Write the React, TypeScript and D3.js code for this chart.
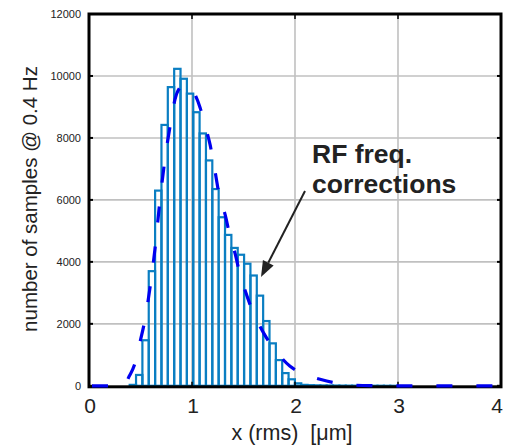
import React from "react";
import * as d3 from "d3";

// ---- data ----
const binStart = 0.395; // µm, left edge of first histogram bin
const binWidth = 0.0617; // µm
const binCounts = [
  30, 350, 1470, 3700, 6300, 8420, 9640, 10230, 9910, 9430, 8830, 8145, 7274,
  6350, 5440, 4870, 4450, 4230, 3940, 3560, 2910, 2090, 1370, 830, 410, 210, 80,
  30, 20, 15, 12, 10, 8, 6, 5, 4, 3, 3, 2, 2, 1, 1,
];
const fitX = [
  0, 0.34, 0.39, 0.44, 0.49, 0.54, 0.59, 0.64, 0.69, 0.74, 0.79, 0.835, 0.884,
  0.932, 0.981, 1.029, 1.078, 1.127, 1.175, 1.224, 1.272, 1.321, 1.369, 1.418,
  1.466, 1.515, 1.563, 1.612, 1.66, 1.709, 1.758, 1.806, 1.855, 1.952, 2.049,
  2.146, 2.243, 2.389, 2.534, 2.728, 3.02, 4.0,
];
const fitY = [
  0, 0, 306, 661, 1339, 2081, 3113, 4403, 6016, 7371, 8435, 9242, 9629, 9726,
  9661, 9403, 8984, 8403, 7790, 6919, 6016, 5532, 4823, 4274, 3597, 3081, 2629,
  2242, 1919, 1629, 1371, 1145, 952, 629, 435, 306, 210, 97, 32, 6, 0, 0,
];
const xTicks = [0, 1, 2, 3, 4];
const yTicks = [0, 2000, 4000, 6000, 8000, 10000, 12000];
const xLabel = "x (rms)  [\u03BCm]";
const yLabel = "number of samples @ 0.4 Hz";
const noteLines = ["RF freq.", "corrections"];

export default function App() {
  const W = 505,
    H = 445;
  const left = 89,
    right = 501,
    top = 14,
    bottom = 385.8;
  const x = d3.scaleLinear().domain([0, 4]).range([left, right]);
  const y = d3.scaleLinear().domain([0, 12000]).range([bottom, top]);
  const font = "Liberation Sans, Arial, Helvetica, sans-serif";

  const line = d3
    .line<number>()
    .x((_, i) => x(fitX[i]))
    .y((d) => y(d))
    .curve(d3.curveMonotoneX);

  const bars = binCounts.map((c, i) => {
    const x0 = binStart + i * binWidth;
    return { x0, x1: x0 + binWidth, c };
  });

  const arrowFrom = { x: 305, y: 191 };
  const arrowTo = { x: 261, y: 277 };
  const ang = Math.atan2(arrowTo.y - arrowFrom.y, arrowTo.x - arrowFrom.x);
  const hl = 16,
    hw = 6;
  const bx = arrowTo.x - hl * Math.cos(ang),
    by = arrowTo.y - hl * Math.sin(ang);
  const head = [
    [arrowTo.x, arrowTo.y],
    [bx + hw * Math.sin(ang), by - hw * Math.cos(ang)],
    [bx - hw * Math.sin(ang), by + hw * Math.cos(ang)],
  ]
    .map((p) => p.join(","))
    .join(" ");

  return (
    <svg
      width={W}
      height={H}
      style={{ position: "absolute", left: 0, top: 0, background: "#fff" }}
      fontFamily={font}
    >
      <rect x={0} y={0} width={W} height={H} fill="#fff" />
      {/* grid */}
      {xTicks.slice(1, -1).map((t) => (
        <line key={"gx" + t} x1={x(t)} x2={x(t)} y1={top} y2={bottom} stroke="#c0c0c0" strokeWidth={1.6} />
      ))}
      {yTicks.slice(1, -1).map((t) => (
        <line key={"gy" + t} x1={left} x2={right} y1={y(t)} y2={y(t)} stroke="#c0c0c0" strokeWidth={1.6} />
      ))}
      {/* histogram */}
      {bars.map((b, i) => (
        <rect
          key={"b" + i}
          x={x(b.x0)}
          y={y(b.c)}
          width={x(b.x1) - x(b.x0)}
          height={Math.max(0.3, y(0) - y(b.c))}
          fill="none"
          stroke="#0a7ec2"
          strokeWidth={2.2}
        />
      ))}
      {/* axes box */}
      <rect x={left} y={top} width={right - left} height={bottom + 1 - top} fill="none" stroke="#000" strokeWidth={3} />
      {yTicks.map((t) => (
        <g key={"ty" + t}>
          <line x1={left} x2={left + 4} y1={y(t)} y2={y(t)} stroke="#000" strokeWidth={2} />
          <line x1={right - 4} x2={right} y1={y(t)} y2={y(t)} stroke="#000" strokeWidth={2} />
          <text x={81} y={y(t) + 4} fontSize={11} textAnchor="end" fill="#222">
            {t}
          </text>
        </g>
      ))}
      {xTicks.map((t) => (
        <g key={"tx" + t}>
          <line x1={x(t)} x2={x(t)} y1={bottom + 1} y2={bottom - 4} stroke="#000" strokeWidth={1.5} />
          <line x1={x(t)} x2={x(t)} y1={top} y2={top + 5} stroke="#000" strokeWidth={1.5} />
          <text x={Math.min(x(t) + 1, 497)} y={413} fontSize={21} textAnchor="middle" fill="#222">
            {t}
          </text>
        </g>
      ))}
      {/* fitted curve */}
      <path
        d={line(fitY) || ""}
        fill="none"
        stroke="#0000f0"
        strokeWidth={3.2}
        strokeDasharray="16,24"
        strokeDashoffset={-3}
      />
      {/* labels */}
      <text x={292} y={440} fontSize={21.5} textAnchor="middle" fill="#222" style={{ whiteSpace: "pre" }}>
        {xLabel}
      </text>
      <text
        transform={`translate(37,${199}) rotate(-90)`}
        fontSize={20.5}
        textAnchor="middle"
        fill="#222"
      >
        {yLabel}
      </text>
      {/* annotation */}
      {noteLines.map((s, i) => (
        <text key={s} x={312} y={163 + i * 30} fontSize={26.5} fontWeight="bold" fill="#222">
          {s}
        </text>
      ))}
      <line x1={arrowFrom.x} y1={arrowFrom.y} x2={bx} y2={by} stroke="#222" strokeWidth={2} />
      <polygon points={head} fill="#222" />
    </svg>
  );
}
